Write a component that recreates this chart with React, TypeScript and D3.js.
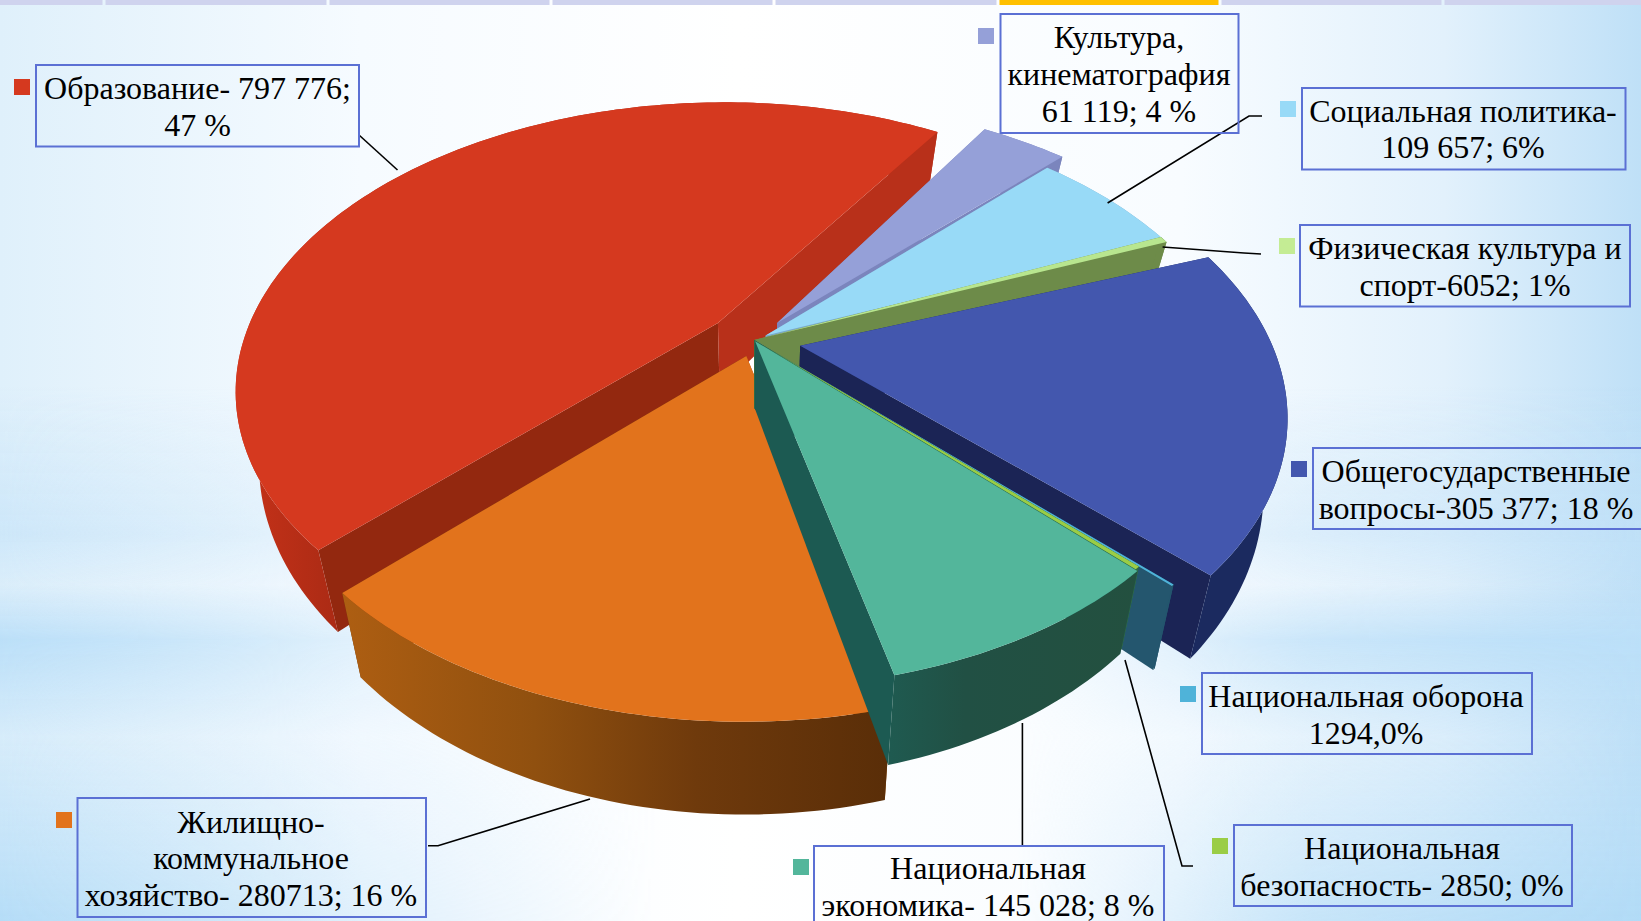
import React from "react";
import * as d3 from "d3";

// ---------- data ----------
const categories = [
  "Общегосударственные вопросы",
  "Национальная оборона",
  "Национальная безопасность",
  "Национальная экономика",
  "Жилищно-коммунальное хозяйство",
  "Образование",
  "Культура, кинематография",
  "Социальная политика",
  "Физическая культура и спорт",
];
const values = [305377, 1294, 2850, 145028, 280713, 797776, 61119, 109657, 6052];
const labelLines = [
  ["Общегосударственные", "вопросы-305 377; 18 %"],
  ["Национальная оборона", "1294,0%"],
  ["Национальная", "безопасность- 2850; 0%"],
  ["Национальная", "экономика- 145 028; 8 %"],
  ["Жилищно-", "коммунальное", "хозяйство- 280713; 16 %"],
  ["Образование- 797 776;", "47 %"],
  ["Культура,", "кинематография", "61 119; 4 %"],
  ["Социальная политика-", "109 657; 6%"],
  ["Физическая культура и", "спорт-6052; 1%"],
];

// ---------- styles ----------
const topColors = ["#4357ae", "#4fb3d9", "#9acd46", "#53b69b", "#e2731c", "#d5391f", "#95a0d8", "#98daf7", "#b8e68f"];
const keyColors = ["#4357ae", "#4fb3d9", "#9acd46", "#53b69b", "#e2731c", "#d5391f", "#95a0d8", "#98daf7", "#c4ec94"];
const wallColors = ["#1b2a5f", "#24566e", "#2f6b45", "url(#tealWall)", "url(#orangeWall)", "url(#redWall)", "#7b85bd", "#7aa9c9", "#6d8b49"];
const cutStart = ["#1b2a5f", "#24566e", "#2f6b45", "#1c5a52", "#a0560f", "#93280f", "#7b85bd", "#7aa9c9", "#6d8b49"];
const cutEnd = ["#1b2455", "#24566e", "#2f6b45", "#1c5a52", "#6e380c", "#b8301a", "#7b85bd", "#7aa9c9", "#6d8b49"];
const explode = [0.1, 0, 0, 0.005, 0.06, 0.1, 0.08, 0.03, 0];
const radius = [1, 1.05, 0.98, 0.98, 1, 1.01, 1.02, 1, 1.03];
const rotation = [2, 2.7, 2.7, 2.7, 2.5, 2.2, 1.5, 1, 0];
const paintOrder = [5, 4, 6, 7, 8, 0, 1, 2, 3];

// ---------- layout ----------
const W = 1641, H = 921;
const CX = 754, CY = 340, RX = 470, RY = 275, P = 0.225, DEPTH = 68;
const START = (67.9 * Math.PI) / 180;
const boxes = [
  [1313, 448, 1650, 529], [1202, 673, 1532, 754], [1234, 825, 1572, 906], [814, 846, 1164, 940],
  [77.5, 798, 426, 917], [36, 65, 359, 146.5], [1000.5, 14, 1238.5, 133], [1302, 88, 1625.5, 169.5], [1300, 225, 1630, 306.5],
];
const textCenters = [1476, 1366, 1402, 988, 251, 197.5, 1119, 1463, 1465];
const baselines = [
  [482, 519], [707, 744], [859, 896], [879, 916], [833, 869, 906], [99, 136], [48, 85, 122], [122, 158], [259, 296],
];
const keyXY = [[1291, 461], [1180, 686], [1212, 838], [793, 859], [56, 812], [14, 79], [978, 28], [1280, 101], [1279, 238]];
const leaders = [
  [[1193, 866], [1182, 866], [1125, 660]],
  [[1022.4, 845], [1022.4, 723]],
  [[428, 845.7], [438, 845.7], [590, 799]],
  [[359, 135], [397.5, 170]],
  [[1262, 116], [1249, 116], [1107.6, 203]],
  [[1261, 254], [1244, 253], [1162.6, 247]],
];
const tabEdges = [-119, 104, 328, 551, 774, 998, 1220, 1443, 1666];

function proj(u: number, v: number, bottom: boolean): [number, number] {
  const s = 1 / (1 - P * v);
  const x = CX + RX * u * s;
  const y = CY + RY * v * s;
  return bottom ? [CX + (x - CX) * 0.955, CY + (y - CY) * 1.065 + DEPTH] : [x, y];
}

const pieGen = d3.pie<number>().sort(null).startAngle(START).endAngle(START + 2 * Math.PI);
const arcs = pieGen(values);
const line = d3.line();

function slice(i: number) {
  const rot = (rotation[i] * Math.PI) / 180;
  const a0 = arcs[i].startAngle + rot;
  const a1 = arcs[i].endAngle + rot;
  const mid = (a0 + a1) / 2;
  const ou = explode[i] * Math.sin(mid);
  const ov = -explode[i] * Math.cos(mid);
  const r = radius[i];
  const n = Math.max(2, Math.ceil((a1 - a0) / 0.02));
  const pts = d3.range(n + 1).map((k) => {
    const a = a0 + ((a1 - a0) * k) / n;
    return [ou + r * Math.sin(a), ov - r * Math.cos(a)] as [number, number];
  });
  const apex: [number, number] = [ou, ov];
  const top = [apex, ...pts].map((p) => proj(p[0], p[1], false));
  const arcTop = pts.map((p) => proj(p[0], p[1], false));
  const arcBottom = pts.map((p) => proj(p[0], p[1], true)).reverse();
  const wall = [...arcTop, ...arcBottom];
  const ap0 = proj(apex[0], apex[1], false);
  const ap1 = proj(apex[0], apex[1], true);
  const first = pts[0];
  const last = pts[pts.length - 1];
  const cutA = [ap0, proj(first[0], first[1], false), proj(first[0], first[1], true), ap1];
  const cutB = [ap0, proj(last[0], last[1], false), proj(last[0], last[1], true), ap1];
  return { top, wall, cutA, cutB };
}

const closed = (p: [number, number][]) => (line(p) ?? "") + "Z";

export default function App() {
  return (
    <svg width={W} height={H} viewBox={`0 0 ${W} ${H}`} style={{ position: "fixed", left: 0, top: 0, display: "block" }}>
      <defs>
        <linearGradient id="edge" x1="0" x2="1" y1="0" y2="0">
          <stop offset="0" stopColor="#dff0fb" />
          <stop offset="0.22" stopColor="#f6fbff" />
          <stop offset="0.45" stopColor="#ffffff" />
          <stop offset="0.72" stopColor="#f8fcff" />
          <stop offset="0.88" stopColor="#e2f1fc" />
          <stop offset="1" stopColor="#bfe0f7" />
        </linearGradient>
        <linearGradient id="bandsV" x1="0" x2="0" y1="0" y2="1">
          <stop offset="0.42" stopColor="#bfe0f8" stopOpacity="0" />
          <stop offset="0.58" stopColor="#bfe0f8" stopOpacity="0.55" />
          <stop offset="0.635" stopColor="#bfe0f8" stopOpacity="0.15" />
          <stop offset="0.695" stopColor="#bbdff8" stopOpacity="1" />
          <stop offset="0.8" stopColor="#bbdff8" stopOpacity="0.25" />
          <stop offset="1" stopColor="#b0daf6" stopOpacity="0.9" />
        </linearGradient>
        <linearGradient id="bandMaskG" x1="0" x2="1" y1="0" y2="0">
          <stop offset="0" stopColor="#fff" />
          <stop offset="0.22" stopColor="#fff" stopOpacity="0.35" />
          <stop offset="0.4" stopColor="#fff" stopOpacity="0" />
          <stop offset="0.62" stopColor="#fff" stopOpacity="0" />
          <stop offset="0.8" stopColor="#fff" stopOpacity="0.7" />
          <stop offset="1" stopColor="#fff" />
        </linearGradient>
        <mask id="bandMask">
          <rect width={W} height={H} fill="url(#bandMaskG)" />
        </mask>
        <linearGradient id="orangeWall" gradientUnits="userSpaceOnUse" x1="345" x2="885" y1="0" y2="0">
          <stop offset="0" stopColor="#ad5e12" />
          <stop offset="0.35" stopColor="#90500f" />
          <stop offset="0.65" stopColor="#6f3a0c" />
          <stop offset="1" stopColor="#5a2e08" />
        </linearGradient>
        <linearGradient id="redWall" gradientUnits="userSpaceOnUse" x1="240" x2="940" y1="0" y2="0">
          <stop offset="0" stopColor="#c63219" />
          <stop offset="0.15" stopColor="#a92a14" />
          <stop offset="0.8" stopColor="#b8301a" />
          <stop offset="1" stopColor="#b8301a" />
        </linearGradient>
        <linearGradient id="tealWall" gradientUnits="userSpaceOnUse" x1="890" x2="1140" y1="0" y2="0">
          <stop offset="0" stopColor="#1f5a50" />
          <stop offset="0.3" stopColor="#215044" />
          <stop offset="1" stopColor="#23503f" />
        </linearGradient>
      </defs>

      <rect width={W} height={H} fill="url(#edge)" />
      <rect width={W} height={H} fill="url(#bandsV)" mask="url(#bandMask)" />

      {d3.pairs(tabEdges).map(([a, b], i) => (
        <rect key={i} x={a + 1.5} y={0} width={b - a - 3} height={5} fill={i === 5 ? "#ffc000" : "#cfd3ee"} />
      ))}

      {paintOrder.map((i) => {
        const s = slice(i);
        return (
          <g key={categories[i]}>
            <path d={closed(s.cutA)} fill={cutStart[i]} />
            <path d={closed(s.cutB)} fill={cutEnd[i]} />
            <path d={closed(s.wall)} fill={wallColors[i]} />
            <path d={closed(s.top)} fill={topColors[i]} />
          </g>
        );
      })}

      {leaders.map((l, i) => (
        <path key={i} d={line(l as [number, number][]) ?? ""} fill="none" stroke="#000" strokeWidth={1.6} />
      ))}

      {categories.map((c, i) => {
        const [x0, y0, x1, y1] = boxes[i];
        return (
          <g key={c}>
            <rect x={x0} y={y0} width={x1 - x0} height={y1 - y0} fill="none" stroke="#5b70d4" strokeWidth={2} />
            <rect x={keyXY[i][0]} y={keyXY[i][1]} width={16} height={16} fill={keyColors[i]} />
            {labelLines[i].map((t, k) => (
              <text
                key={k}
                x={textCenters[i]}
                y={baselines[i][k]}
                textAnchor="middle"
                fontFamily="'Liberation Serif', serif"
                fontSize={32}
                fill="#000"
              >
                {t}
              </text>
            ))}
          </g>
        );
      })}
    </svg>
  );
}
